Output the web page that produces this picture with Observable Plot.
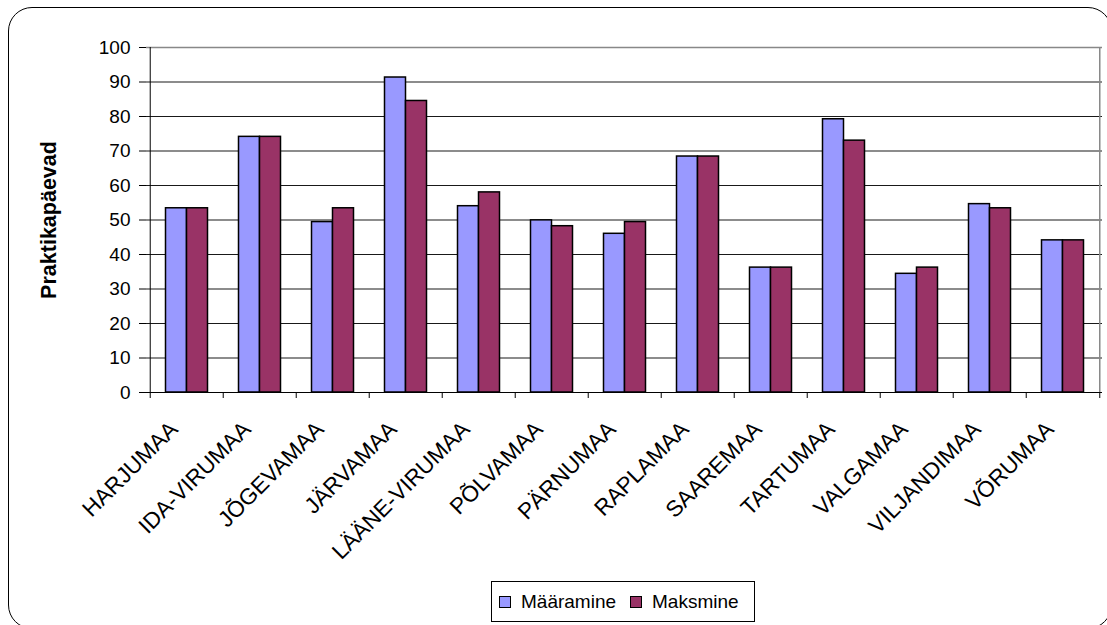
<!DOCTYPE html>
<html><head><meta charset="utf-8">
<script src="https://cdn.jsdelivr.net/npm/d3@7"></script>
<script src="https://cdn.jsdelivr.net/npm/@observablehq/plot@0.6"></script>
<style>
body{margin:0;background:#fff;overflow:hidden;width:1107px;height:625px;position:relative;font-family:"Liberation Sans",Arial,sans-serif}
#border{position:absolute;left:8px;top:7px;width:1104px;height:622px;border:1.5px solid #000;border-radius:24px;box-sizing:border-box}
#chart{position:absolute;left:0;top:0}
#legend{position:absolute;left:491px;top:581px;width:264px;height:41px;border:1px solid #000;box-sizing:border-box;display:flex;align-items:center;padding-left:7px;font-size:19px;color:#000;background:#fff}
#legend .sw{display:inline-block;width:10px;height:10px;border:1px solid #000;margin-right:10px}
#legend .item{display:flex;align-items:center;margin-right:14px}
</style></head><body>
<div id="border"></div>
<div id="chart"></div>
<div id="legend"></div>
<script>
const counties = ["HARJUMAA","IDA-VIRUMAA","JÕGEVAMAA","JÄRVAMAA","LÄÄNE-VIRUMAA","PÕLVAMAA","PÄRNUMAA","RAPLAMAA","SAAREMAA","TARTUMAA","VALGAMAA","VILJANDIMAA","VÕRUMAA"];
const maaramine = [53.4, 74.1, 49.4, 91.3, 54.0, 49.9, 46.0, 68.4, 36.2, 79.2, 34.4, 54.6, 44.1];
const maksmine  = [53.4, 74.1, 53.4, 84.5, 58.0, 48.2, 49.4, 68.4, 36.2, 73.0, 36.2, 53.4, 44.1];
const seriesNames = ["Määramine","Maksmine"];
const seriesColors = ["#9999FF","#993366"];
const yTicks = [0,10,20,30,40,50,60,70,80,90,100];
const yLabel = "Praktikapäevad";

const W=1107,H=560,mL=146,mR=5,mT=47,mB=168;
const step=(W-mL-mR)/counties.length, barW=21;
const pi = 1 - barW/step;
const rows = counties.map((c,i)=>({county:c, a:maaramine[i], b:maksmine[i]}));
const font = '"Liberation Sans", Arial, sans-serif';

const plot = Plot.plot({
  width:W,height:H,marginLeft:mL,marginRight:mR,marginTop:mT,marginBottom:mB,
  style:{fontFamily:font,fontSize:"19px",color:"#000",background:"transparent",overflow:"visible"},
  x:{domain:counties,paddingInner:pi,paddingOuter:pi/2,axis:null},
  y:{domain:[0,100],axis:null},
  marks:[
    Plot.gridY(yTicks,{stroke:"#000",strokeOpacity:0.9}),
    Plot.ruleY([100],{stroke:"#888",strokeWidth:1.5}),
    Plot.ruleX([counties[counties.length-1]],{dx:step/2,stroke:"#888",strokeWidth:1.5}),
    Plot.barY(rows,{x:"county",y:"a",dx:-barW/2,fill:seriesColors[0],stroke:"#000",strokeWidth:1.5}),
    Plot.barY(rows,{x:"county",y:"b",dx:barW/2,fill:seriesColors[1],stroke:"#000",strokeWidth:1.5}),
    Plot.ruleY([0],{stroke:"#000"}),
    Plot.ruleX([counties[0]],{dx:-step/2,stroke:"#000"}),
    Plot.axisY(yTicks,{tickSize:7,tickPadding:9,fontSize:19,label:null}),
    Plot.axisX(counties,{tickSize:6,tickFormat:()=>"",dx:-step/2,label:null}),
    Plot.axisX([counties[counties.length-1]],{tickSize:6,tickFormat:()=>"",dx:step/2,label:null}),
    Plot.axisX(counties,{tickSize:0,tickPadding:33,tickRotate:-45,dx:-13,fontSize:22.5,label:null}),
    Plot.text([yLabel],{frameAnchor:"left",textAnchor:"middle",rotate:-90,dx:-97,fontWeight:"bold",fontSize:21.5})
  ]
});
document.getElementById("chart").appendChild(plot);

const lg = document.getElementById("legend");
seriesNames.forEach((n,i)=>{
  const it=document.createElement("span"); it.className="item";
  const sw=document.createElement("span"); sw.className="sw"; sw.style.background=seriesColors[i];
  it.appendChild(sw); it.appendChild(document.createTextNode(n)); lg.appendChild(it);
});
</script>
</body></html>
